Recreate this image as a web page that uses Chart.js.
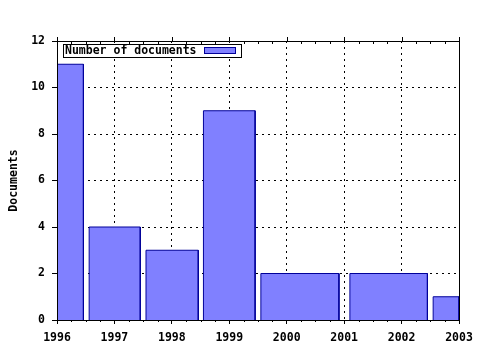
<!DOCTYPE html>
<html>
<head>
<meta charset="utf-8">
<script src="https://cdn.jsdelivr.net/npm/chart.js@4.4.0/dist/chart.umd.min.js"></script>
<style>
    body { margin: 0; background: #fff; }
    canvas { display: block; }
</style>
</head>
<body>
<canvas id="docs-chart" width="480" height="350"></canvas>
<script>
    "use strict";

    // Data (bars are year spans)
    var barStart = [1996.0, 1996.56, 1997.55, 1998.55, 1999.55, 2001.1, 2002.55];
    var barEnd = [1996.46, 1997.45, 1998.46, 1999.45, 2000.91, 2002.45, 2003.0];
    var docCounts = [11, 4, 3, 9, 2, 2, 1];
    var seriesLabel = "Number of documents";
    var yTitle = "Documents";

    var fillColor = "#8080ff";
    var edgeColor = "#000099";
    var font = { family: "'DejaVu Sans Mono', monospace", size: 11.5, weight: "bold" };

    // one closed outline per bar, filled down to zero
    var datasets = docCounts.map(function (n, i) {
        return {
            label: seriesLabel,
            data: [
                { x: barStart[i], y: 0 },
                { x: barStart[i], y: n },
                { x: barEnd[i], y: n },
                { x: barEnd[i], y: 0 }
            ],
            borderColor: edgeColor,
            backgroundColor: fillColor,
            borderWidth: 1,
            pointRadius: 0,
            tension: 0,
            fill: "origin"
        };
    });

    // Frame, minor ticks and the boxed legend
    var decorations = {
        id: "decorations",
        afterDraw: function (chart) {
            var c = chart.ctx, a = chart.chartArea, x = chart.scales.x;
            c.save();
            c.strokeStyle = "#000";
            c.lineWidth = 1;
            c.strokeRect(Math.round(a.left) + 0.5, Math.round(a.top) + 0.5,
                Math.round(a.right - a.left), Math.round(a.bottom - a.top));

            c.beginPath();
            for (var v = x.min; v <= x.max + 0.001; v += 0.25) {
                var px = Math.round(x.getPixelForValue(v)) + 0.5;
                var major = Math.abs(v - Math.round(v)) < 0.001;
                if (major) {
                    c.moveTo(px, a.top - 4); c.lineTo(px, a.top);
                } else {
                    c.moveTo(px, a.top); c.lineTo(px, a.top + 3);
                    c.moveTo(px, a.bottom); c.lineTo(px, a.bottom + 2);
                }
            }
            c.stroke();

            // legend
            var lx = a.left + 6, ly = a.top + 3;
            c.fillStyle = "#fff";
            c.fillRect(lx, ly, 179, 14);
            c.strokeRect(lx + 0.5, ly + 0.5, 178, 13);
            c.font = "bold 11.5px 'DejaVu Sans Mono', monospace";
            c.fillStyle = "#000";
            c.textBaseline = "middle";
            c.fillText(seriesLabel, lx + 2, ly + 7.5);
            c.fillStyle = fillColor;
            c.fillRect(lx + 141, ly + 3, 32, 7);
            c.strokeStyle = edgeColor;
            c.strokeRect(lx + 141.5, ly + 3.5, 31, 6);
            c.restore();
        }
    };

    var ctx = document.getElementById("docs-chart").getContext("2d");
    var docsChart = new Chart(ctx, {
        type: "line",
        data: { datasets: datasets },
        options: {
            responsive: false,
            animation: false,
            layout: { padding: { top: 41, right: 21, left: 0, bottom: 0 } },
            plugins: {
                legend: { display: false },
                tooltip: { enabled: false }
            },
            scales: {
                x: {
                    type: "linear",
                    min: 1996,
                    max: 2003,
                    afterFit: function (scale) { scale.height = 30; },
                    ticks: {
                        stepSize: 1,
                        color: "#000",
                        font: font,
                        padding: 7,
                        maxRotation: 0,
                        callback: function (v) { return String(v); }
                    },
                    grid: {
                        color: "#000",
                        tickColor: "#000",
                        tickLength: 4,
                        borderDash: [2, 3]
                    },
                    border: { color: "#000", dash: [2, 4] }
                },
                y: {
                    min: 0,
                    max: 12,
                    afterFit: function (scale) { scale.width = 57; },
                    ticks: {
                        stepSize: 2,
                        color: "#000",
                        font: font,
                        padding: 7
                    },
                    grid: {
                        color: "#000",
                        tickColor: "#000",
                        tickLength: 5
                    },
                    border: { color: "#000", dash: [2, 4] },
                    title: {
                        display: true,
                        text: yTitle,
                        color: "#000",
                        font: font,
                        padding: { top: 7, bottom: 0 }
                    }
                }
            }
        },
        plugins: [decorations]
    });
</script>
</body>
</html>
